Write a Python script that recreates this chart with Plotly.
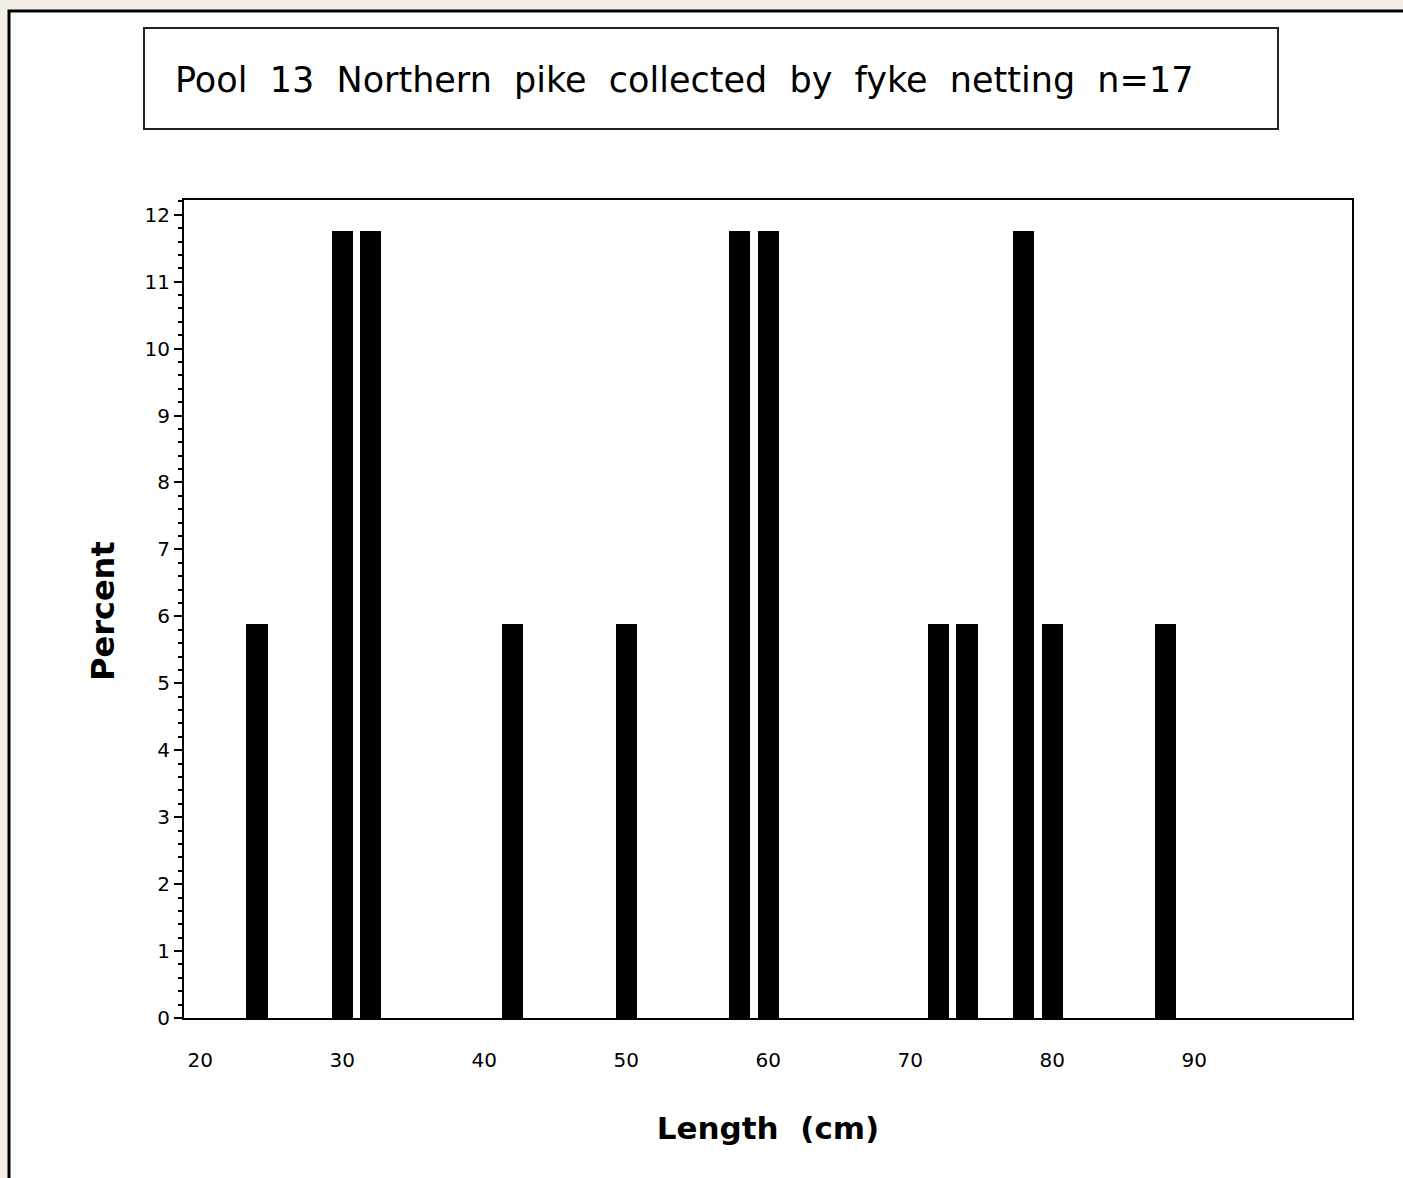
import plotly.graph_objects as go

# Data
length_mid = [24, 30, 32, 42, 50, 58, 60, 72, 74, 78, 80, 88]
percent = [5.88, 11.76, 11.76, 5.88, 5.88, 11.76, 11.76, 5.88, 5.88, 11.76, 5.88, 5.88]
x_ticks = [20, 30, 40, 50, 60, 70, 80, 90]
y_ticks = list(range(0, 13))

sp = "\u00a0\u00a0"
title_text = sp.join(["Pool", "13", "Northern", "pike", "collected", "by", "fyke", "netting", "n=17"])

W, H = 1403, 1178
L, R, T, B = 184, 51, 200, 160
pw, ph = W - L - R, H - T - B

def px_x(x):
    return (x - L) / pw

def px_y(y):
    return (H - B - y) / ph

fig = go.Figure()
fig.add_trace(go.Bar(
    x=length_mid, y=percent, width=1.5,
    marker=dict(color="black", line=dict(width=0)),
    showlegend=False, hoverinfo="x+y",
))

font_family = "DejaVu Sans"

fig.update_layout(
    width=W, height=H,
    margin=dict(l=L, r=R, t=T, b=B),
    paper_bgcolor="#f3efe7",
    plot_bgcolor="white",
    bargap=0,
    font=dict(family=font_family, color="black"),
    xaxis=dict(
        range=[18.86, 101.11],
        tickvals=x_ticks, ticktext=[str(v) for v in x_ticks],
        ticks="", showgrid=False, zeroline=False,
        showline=True, linecolor="black", linewidth=2, mirror=True,
        tickfont=dict(size=20, family=font_family),
        ticklabelstandoff=23,
        title=dict(text="Length\u00a0\u00a0(cm)", font=dict(size=31, family="DejaVu Sans", weight="bold"), standoff=46),
    ),
    yaxis=dict(
        range=[0, 12.22],
        tickvals=y_ticks,
        ticks="outside", ticklen=8, tickwidth=2, tickcolor="black",
        minor=dict(dtick=0.2, ticks="outside", ticklen=4, tickwidth=2, tickcolor="black"),
        showgrid=False, zeroline=False,
        showline=True, linecolor="black", linewidth=2, mirror=True,
        tickfont=dict(size=20, family=font_family),
    ),
    shapes=[
        # outer white panel
        dict(type="rect", xref="paper", yref="paper", layer="below",
             x0=px_x(9), x1=px_x(1420), y0=px_y(1195), y1=px_y(11),
             fillcolor="white", line=dict(color="black", width=3)),
        # title box
        dict(type="rect", xref="paper", yref="paper",
             x0=px_x(144), x1=px_x(1278), y0=px_y(129), y1=px_y(28),
             fillcolor="rgba(0,0,0,0)", line=dict(color="#222", width=2)),
    ],
    annotations=[
        dict(text=title_text, xref="paper", yref="paper",
             x=px_x(173), y=px_y(80), xanchor="left", yanchor="middle",
             showarrow=False, font=dict(size=35, family=font_family, color="black")),
        dict(text="Percent", xref="paper", yref="paper",
             x=px_x(103), y=px_y(611), xanchor="center", yanchor="middle",
             textangle=-90, showarrow=False,
             font=dict(size=32, family=font_family, color="black", weight="bold")),
    ],
)

fig.write_html("out.html", config={"displayModeBar": False},
               post_script="document.body.style.margin='0';document.body.style.padding='0';document.body.style.overflow='hidden';")
